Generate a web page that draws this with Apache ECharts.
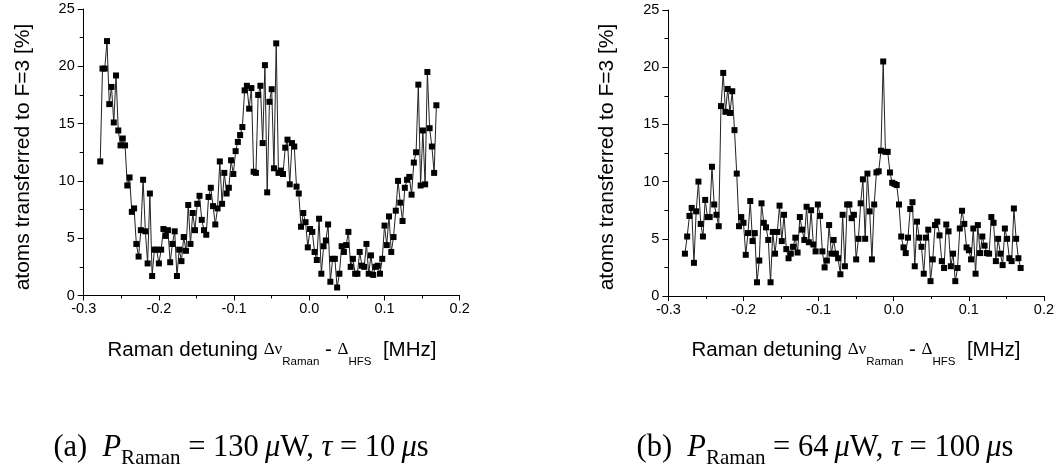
<!DOCTYPE html>
<html>
<head>
<meta charset="utf-8">
<script src="https://cdn.jsdelivr.net/npm/echarts/dist/echarts.min.js"></script>
<style>
html,body{margin:0;padding:0;background:#fff;}
#chart{width:1057px;height:473px;}
</style>
</head>
<body>
<div id="chart"></div>
<script>
// Raman detuning (MHz), shared by both panels
const detuning = [
-0.278,-0.275,-0.272,-0.269,-0.266,-0.263,-0.260,-0.257,-0.254,-0.251,
-0.248,-0.245,-0.242,-0.239,-0.236,-0.233,-0.230,-0.227,-0.224,-0.221,
-0.218,-0.215,-0.212,-0.209,-0.206,-0.203,-0.200,-0.197,-0.194,-0.191,
-0.188,-0.185,-0.182,-0.179,-0.176,-0.173,-0.170,-0.167,-0.164,-0.161,
-0.158,-0.155,-0.152,-0.149,-0.146,-0.143,-0.140,-0.137,-0.134,-0.131,
-0.128,-0.125,-0.122,-0.119,-0.116,-0.113,-0.110,-0.107,-0.104,-0.101,
-0.098,-0.095,-0.092,-0.089,-0.086,-0.083,-0.080,-0.077,-0.074,-0.071,
-0.068,-0.065,-0.062,-0.059,-0.056,-0.053,-0.050,-0.047,-0.044,-0.041,
-0.038,-0.035,-0.032,-0.029,-0.026,-0.023,-0.020,-0.017,-0.014,-0.011,
-0.008,-0.005,-0.002,0.001,0.004,0.007,0.010,0.013,0.016,0.019,
0.022,0.025,0.028,0.031,0.034,0.037,0.040,0.043,0.046,0.049,
0.052,0.055,0.058,0.061,0.064,0.067,0.070,0.073,0.076,0.079,
0.082,0.085,0.088,0.091,0.094,0.097,0.100,0.103,0.106,0.109,
0.112,0.115,0.118,0.121,0.124,0.127,0.130,0.133,0.136,0.139,
0.142,0.145,0.148,0.151,0.154,0.157,0.160,0.163,0.166,0.169
];

// (a) P = 130 uW, tau = 10 us : atoms transferred to F=3 [%]
const transferredA = [
11.7,19.8,19.8,22.2,16.7,18.2,15.1,19.2,14.4,13.1,
13.7,13.1,9.6,10.3,7.3,7.6,4.5,3.4,5.7,10.1,
5.6,2.8,8.9,1.7,4.0,4.0,2.8,4.0,5.8,5.2,
5.7,2.9,4.5,5.6,1.7,4.0,3.0,5.1,3.9,7.9,
4.5,7.2,5.7,8.0,8.7,6.6,5.7,5.3,8.6,9.4,
7.8,6.2,7.6,11.7,8.0,10.7,8.9,9.4,11.8,10.6,
12.6,13.4,14.0,14.7,17.9,18.3,16.3,18.1,10.8,10.7,
17.5,18.3,13.3,20.1,9.0,16.9,18.0,11.1,22.0,10.7,
10.9,10.6,12.9,13.6,9.7,13.3,13.0,9.5,8.9,6.0,
7.2,6.4,4.2,5.8,5.55,3.8,3.1,6.7,1.9,4.3,
4.8,6.2,1.2,3.2,3.2,0.7,1.9,4.3,3.8,4.4,
5.55,2.5,3.2,1.9,1.9,3.8,2.6,2.5,4.5,1.9,
3.5,1.8,2.5,2.6,1.9,3.2,6.1,4.4,6.9,3.8,
5.1,7.4,10.0,8.1,6.5,9.4,10.1,10.35,8.8,11.6,
12.5,18.4,9.6,14.4,9.7,19.5,14.6,13.0,10.7,16.6
];

// (b) P = 64 uW, tau = 100 us : atoms transferred to F=3 [%]
const transferredB = [
3.7,5.2,7.0,7.7,2.9,7.4,10.0,6.3,5.2,8.4,
6.9,6.9,11.3,8.0,7.1,6.1,16.6,19.5,16.1,18.1,
16.0,17.9,14.5,10.7,6.1,6.9,6.4,3.6,5.5,8.3,
4.8,5.5,1.2,3.1,8.1,6.4,6.0,4.9,1.2,5.6,
3.7,5.6,7.9,4.8,7.1,4.1,3.3,3.7,4.3,5.1,
3.8,6.9,5.8,4.9,7.8,4.7,7.5,4.5,3.9,8.0,
7.0,3.9,2.5,3.1,6.2,3.7,4.9,3.7,3.3,1.9,
7.1,2.6,8.0,8.0,6.8,7.1,3.2,5.0,8.1,10.2,
5.0,10.7,7.4,3.2,8.0,10.8,10.9,12.7,20.5,12.6,
12.6,10.8,9.9,9.8,9.7,8.0,5.2,4.25,3.75,5.1,
7.6,8.2,2.6,6.5,5.1,4.3,1.95,5.1,5.8,1.3,
3.2,6.2,6.5,5.3,3.05,2.45,6.25,5.65,2.6,3.7,
1.3,2.45,5.9,7.45,6.3,4.25,4.0,3.2,5.9,1.95,
6.2,3.75,5.2,4.4,3.75,3.7,6.9,6.4,3.05,5.0,
3.7,2.7,5.9,5.0,3.3,3.05,7.65,5.0,3.3,2.45
];

const xTicks = [-0.3, -0.2, -0.1, 0.0, 0.1, 0.2];
const yTicks = [0, 5, 10, 15, 20, 25];
const yTitle = 'atoms transferred to F=3 [%]';
const captions = [
  ['(a)\u2002', '130', '10'],
  ['(b)\u2002', '64', '100']
];

const sans = '"Liberation Sans", Arial, sans-serif';
const serif = '"Liberation Serif", "Times New Roman", serif';

function xAxisCfg(gi) {
  return {
    gridIndex: gi, type: 'value',
    min: xTicks[0], max: xTicks[xTicks.length - 1], interval: 0.1,
    axisLine: {show: true, onZero: false, lineStyle: {color: '#000', width: 1}},
    axisTick: {show: true, inside: false, length: 5, lineStyle: {color: '#000'}},
    minorTick: {show: true, splitNumber: 2, length: 3, lineStyle: {color: '#000'}},
    splitLine: {show: false},
    axisLabel: {color: '#000', fontFamily: sans, fontSize: 14.5, margin: 6,
      formatter: v => (Math.abs(v) < 1e-9 ? 0 : v).toFixed(1)}
  };
}
function yAxisCfg(gi) {
  return {
    gridIndex: gi, type: 'value',
    min: yTicks[0], max: yTicks[yTicks.length - 1], interval: 5,
    axisLine: {show: true, onZero: false, lineStyle: {color: '#000', width: 1}},
    axisTick: {show: true, inside: false, length: 6, lineStyle: {color: '#000'}},
    minorTick: {show: true, splitNumber: 2, length: 4, lineStyle: {color: '#000'}},
    splitLine: {show: false},
    axisLabel: {color: '#000', fontFamily: sans, fontSize: 14.5, margin: 9}
  };
}
function seriesCfg(gi, vals) {
  return {
    type: 'line', xAxisIndex: gi, yAxisIndex: gi,
    data: detuning.map((x, i) => [x, vals[i]]),
    symbol: 'rect', symbolSize: 6,
    itemStyle: {color: '#000'},
    lineStyle: {color: '#222', width: 1},
    animation: false
  };
}

function xTitle(cx) {
  return {
    type: 'text', x: cx, y: 350, silent: true,
    style: {
      text: '{t|Raman detuning }{s|\u0394\u03bd}{b|Raman}{t| - }{s|\u0394}{b|HFS}{t|  [MHz]}',
      align: 'center', verticalAlign: 'middle',
      rich: {
        t: {fontFamily: sans, fontSize: 20.5, lineHeight: 35, verticalAlign: 'middle', fill: '#000'},
        s: {fontFamily: serif, fontSize: 17, lineHeight: 35, verticalAlign: 'middle', fill: '#000'},
        b: {fontFamily: sans, fontSize: 11.5, lineHeight: 11.5, verticalAlign: 'bottom', fill: '#000'}
      }
    }
  };
}
function yTitleG(cx) {
  return {
    type: 'text', x: cx, y: 157, rotation: Math.PI / 2, silent: true,
    style: {text: yTitle, font: '21px ' + sans, fill: '#000', align: 'center', verticalAlign: 'middle'}
  };
}
function caption(cx, c) {
  return {
    type: 'text', x: cx, y: 448, silent: true,
    style: {
      text: '{r|' + c[0] + '}{i|P}{b|Raman}{r| = ' + c[1] + '\u2009}{i|\u03bc}{r|W, }{i|\u03c4}{r| = ' + c[2] + '\u2009}{i|\u03bc}{r|s}',
      align: 'center', verticalAlign: 'middle',
      rich: {
        r: {fontFamily: serif, fontSize: 30.5, lineHeight: 41, verticalAlign: 'middle', fill: '#000'},
        i: {fontFamily: serif, fontStyle: 'italic', fontSize: 30.5, lineHeight: 41, verticalAlign: 'middle', fill: '#000'},
        b: {fontFamily: serif, fontSize: 21, lineHeight: 21, verticalAlign: 'bottom', fill: '#000'}
      }
    }
  };
}

const chart = echarts.init(document.getElementById('chart'), null, {renderer: 'canvas'});
chart.setOption({
  animation: false,
  backgroundColor: '#fff',
  grid: [
    {left: 83.7, top: 9, width: 376, height: 286.5},
    {left: 668.4, top: 10, width: 376, height: 286}
  ],
  xAxis: [xAxisCfg(0), xAxisCfg(1)],
  yAxis: [yAxisCfg(0), yAxisCfg(1)],
  series: [seriesCfg(0, transferredA), seriesCfg(1, transferredB)],
  graphic: [
    yTitleG(23), yTitleG(607),
    xTitle(272), xTitle(856),
    caption(241, captions[0]), caption(825, captions[1])
  ]
});
</script>
</body>
</html>
